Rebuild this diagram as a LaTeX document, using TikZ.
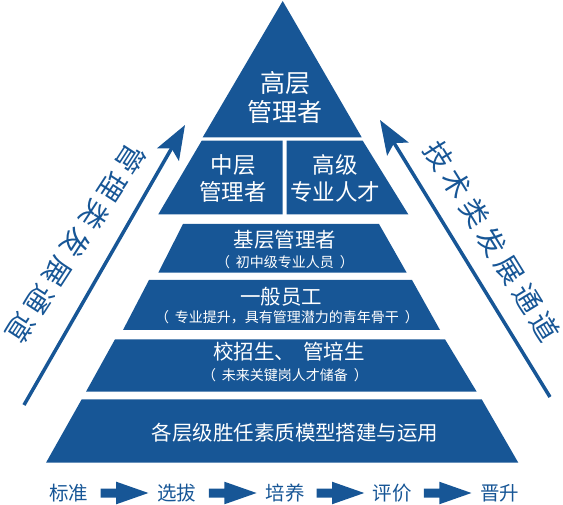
\documentclass[tikz,border=0pt]{standalone}
\usepackage{fontspec}
\setmainfont{Noto Sans CJK SC}
\usetikzlibrary{arrows.meta}
\definecolor{pblue}{RGB}{23,86,150}
\newcommand{\sch}[1]{\makebox[33.6pt]{#1}}
\newcommand{\pgap}{\hspace{0.42em}}
\begin{document}
\begin{tikzpicture}[x=1pt,y=-1pt,
  layer/.style={fill=pblue},
  wtxt/.style={text=white, inner sep=0pt, align=center},
  big/.style={font=\fontsize{25}{29}\selectfont},
  mid/.style={font=\fontsize{22.5}{27}\selectfont},
  main/.style={font=\fontsize{20.5}{24}\selectfont},
  sub/.style={font=\fontsize{14}{16}\selectfont},
  word/.style={text=pblue, inner sep=0pt, font=\fontsize{19.5}{23}\selectfont},
  side/.style={text=pblue, inner sep=0pt, font=\fontsize{28}{30}\selectfont},
  chan/.style={draw=pblue, line width=3.5pt, -{Stealth[length=34pt,width=25pt,inset=7pt]}},
  blockarrow/.pic={\fill[pblue] (-22,-4.5) -- (-6.5,-4.5) -- (-6.5,-11.3) -- (25.7,0) -- (-6.5,11.3) -- (-6.5,4.5) -- (-22,4.5) -- cycle;}
]
\useasboundingbox (0,0) rectangle (563,505);

% pyramid layers
\fill[layer] (282.7,1) -- (361.7,137.3) -- (202.7,137.3) -- cycle;
\fill[layer] (201.7,140.7) -- (282.7,140.7) -- (282.7,214.3) -- (158.3,214.3) -- cycle;
\fill[layer] (286.7,140.7) -- (362.7,140.7) -- (408.3,214.3) -- (286.7,214.3) -- cycle;
\fill[layer] (183,224) -- (379,224) -- (406.7,272.7) -- (158.3,272.7) -- cycle;
\fill[layer] (149,280) -- (412,280) -- (440,330) -- (123,330) -- cycle;
\fill[layer] (115,339.3) -- (445,339.3) -- (476.7,391.7) -- (86,391.7) -- cycle;
\fill[layer] (81.7,399.3) -- (481.7,399.3) -- (518.3,462.7) -- (46,462.7) -- cycle;

% layer texts
\node[wtxt,big] (t1) at (285,97.5) {高层\\管理者};
\node[wtxt,mid] (t2a) at (233,178.5) {中层\\管理者};
\node[wtxt,mid] (t2b) at (335,178.5) {高级\\专业人才};
\node[wtxt,main] (t3) at (285,240) {基层管理者};
\node[wtxt,sub] (t3s) at (285,262) {（\pgap 初中级专业人员\pgap ）};
\node[wtxt,main] (t4) at (281,297) {一般员工};
\node[wtxt,sub] (t4s) at (287,317) {（\pgap 专业提升，具有管理潜力的青年骨干\pgap ）};
\node[wtxt,main] (t5) at (289,352) {校招生、\hspace{0.4em}管培生};
\node[wtxt,sub] (t5s) at (285,375) {（\pgap 未来关键岗人才储备\pgap ）};
\node[wtxt,main] (t6) at (295,433) {各层级胜任素质模型搭建与运用};

% side channels
\coordinate (lb) at (24,405);
\coordinate (lt) at (185,125);
\coordinate (rb) at (550,397);
\coordinate (rt) at (380,120);
\draw[chan] (lb) -- (lt);
\draw[chan] (rb) -- (rt);

\node[side, rotate=-123] (ltext) at (76,243.5)
  {\sch{管}\sch{理}\sch{类}\sch{发}\sch{展}\sch{通}\sch{道}};
\node[side, rotate=-58.3] (rtext) at (492.3,241.5)
  {\sch{技}\sch{术}\sch{类}\sch{发}\sch{展}\sch{通}\sch{道}};

% bottom process row
\node[word] (w1) at (68.7,493) {标准};
\node[word] (w2) at (176.7,493) {选拔};
\node[word] (w3) at (285,493) {培养};
\node[word] (w4) at (392,493) {评价};
\node[word] (w5) at (499.5,493) {晋升};
\path (w1) -- (w2) coordinate[pos=0.5] (m1);
\path (w2) -- (w3) coordinate[pos=0.5] (m2);
\path (w3) -- (w4) coordinate[pos=0.5] (m3);
\path (w4) -- (w5) coordinate[pos=0.5] (m4);
\foreach \m in {m1,m2,m3,m4}
  \pic at (\m) {blockarrow};
\end{tikzpicture}
\end{document}
